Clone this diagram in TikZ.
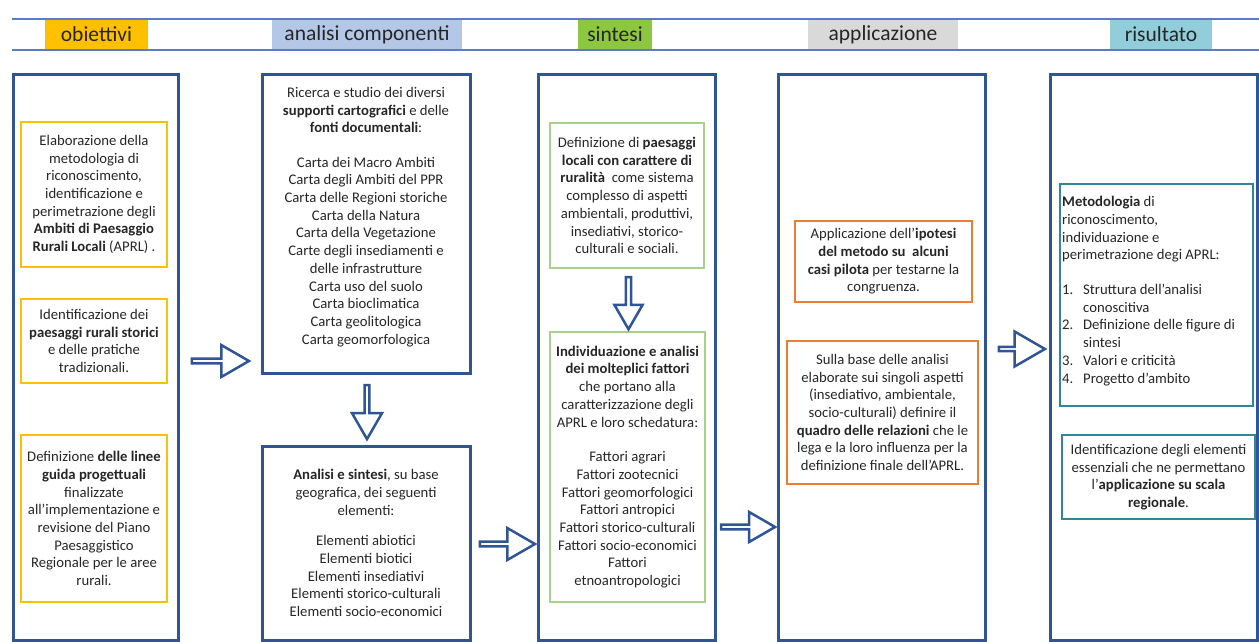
\documentclass[tikz,border=0pt]{standalone}
\usepackage{fontspec}
\setmainfont{Carlito}
\usetikzlibrary{shapes.arrows}
\definecolor{colblue}{HTML}{2F5597}
\definecolor{hdrline}{HTML}{5B7BC4}
\definecolor{gold}{HTML}{FFC000}
\definecolor{hdrblue}{HTML}{B4C7E7}
\definecolor{hdrgreen}{HTML}{8DC63F}
\definecolor{hdrgray}{HTML}{D9D9D9}
\definecolor{hdrcyan}{HTML}{92CDDC}
\definecolor{boxgreen}{HTML}{A9D18E}
\definecolor{boxorange}{HTML}{ED7D31}
\definecolor{boxteal}{HTML}{31859C}
\definecolor{ink}{HTML}{262626}
\begin{document}
\begin{tikzpicture}[x=1pt,y=-1pt,
  colbox/.style={draw=colblue, line width=3pt, inner sep=0pt},
  hdr/.style={font=\fontsize{21.5}{26}\selectfont, inner sep=0pt, minimum height=31pt, text=ink},
  txt/.style={font=\fontsize{14.7}{17.7}\selectfont, align=center, text=ink, inner sep=0pt},
  goldbox/.style={txt, draw=gold, line width=1.8pt},
  greenbox/.style={txt, draw=boxgreen, line width=1.6pt},
  orangebox/.style={txt, draw=boxorange, line width=1.6pt},
  tealbox/.style={txt, draw=boxteal, line width=1.5pt},
  rarrow/.style={single arrow, draw=colblue, fill=white, line width=2.5pt,
    single arrow tip angle=60, single arrow head extend=7.5pt, inner sep=0pt,
    minimum width=32pt},
  darrow/.style={rarrow, shape border rotate=270}
]
\useasboundingbox (0,0) rectangle (1259,642);

% header
\node[hdr, fill=gold, minimum width=103pt] (h1) at (96.5,34.5) {obiettivi};
\node[hdr, fill=hdrblue, minimum width=190pt] (h2) at (367,34.5) {analisi componenti};
\node[hdr, fill=hdrgreen, minimum width=74pt] (h3) at (615,34.5) {sintesi};
\node[hdr, fill=hdrgray, minimum width=150pt] (h4) at (883,34.5) {applicazione};
\node[hdr, fill=hdrcyan, minimum width=102pt] (h5) at (1161,34.5) {risultato};
\draw[hdrline, line width=1.5pt] (12,19) -- (1259,19);
\draw[hdrline, line width=1.5pt] (12,50) -- (1259,50);

% columns
\node[colbox, minimum width=165pt, minimum height=565pt] (c1) at (95.5,357.5) {};
\node[colbox, minimum width=208pt, minimum height=298pt] (c2a) at (366,224) {};
\node[txt] (t2a) at (366,217) {Ricerca e studio dei diversi\\ \textbf{supporti cartografici} e delle\\ \textbf{fonti documentali}:\\[16.5pt]
Carta dei Macro Ambiti\\ Carta degli Ambiti del PPR\\ Carta delle Regioni storiche\\ Carta della Natura\\ Carta della Vegetazione\\ Carte degli insediamenti e\\ delle infrastrutture\\ Carta uso del suolo\\ Carta bioclimatica\\ Carta geolitologica\\ Carta geomorfologica};
\node[colbox, txt, minimum width=208pt, minimum height=194pt] (c2b) at (366,543) {\textbf{Analisi e sintesi}, su base\\ geografica, dei seguenti\\ elementi:\\[13pt]
Elementi abiotici\\ Elementi biotici\\ Elementi insediativi\\ Elementi storico-culturali\\ Elementi socio-economici};
\node[colbox, minimum width=177pt, minimum height=565pt] (c3) at (626.5,357.5) {};
\node[colbox, minimum width=207pt, minimum height=565pt] (c4) at (881.5,357.5) {};
\node[colbox, minimum width=207pt, minimum height=565pt] (c5) at (1153.5,357.5) {};

% column 1
\node[goldbox, minimum width=146pt, minimum height=145pt] (o1) at (94,194.5) {Elaborazione della\\ metodologia di\\ riconoscimento,\\ identificazione e\\ perimetrazione degli\\ \textbf{Ambiti di Paesaggio}\\ \textbf{Rurali Locali} (APRL) .};
\node[goldbox, minimum width=146pt, minimum height=84pt] (o2) at (94,341) {Identificazione dei\\ \textbf{paesaggi rurali storici}\\ e delle pratiche\\ tradizionali.};
\node[goldbox, minimum width=146pt, minimum height=167pt] (o3) at (94,518.5) {Definizione \textbf{delle linee}\\ \textbf{guida progettuali}\\ finalizzate\\ all’implementazione e\\ revisione del Piano\\ Paesaggistico\\ Regionale per le aree\\ rurali.};

% column 3
\node[greenbox, minimum width=154pt, minimum height=145pt] (s1) at (627,195.5) {Definizione di \textbf{paesaggi}\\ \textbf{locali con carattere di}\\ \textbf{ruralità}\ \ come sistema\\ complesso di aspetti\\ ambientali, produttivi,\\ insediativi, storico-\\ culturali e sociali.};
\node[greenbox, minimum width=155pt, minimum height=270pt] (s2) at (627.5,467) {\textbf{Individuazione e analisi}\\ \textbf{dei molteplici fattori}\\ che portano alla\\ caratterizzazione degli\\ APRL e loro schedatura:\\[17pt]
Fattori agrari\\ Fattori zootecnici\\ Fattori geomorfologici\\ Fattori antropici\\ Fattori storico-culturali\\ Fattori socio-economici\\ Fattori\\ etnoantropologici};

% column 4
\node[orangebox, minimum width=177pt, minimum height=81pt] (p1) at (883.5,261.5) {Applicazione dell’\textbf{ipotesi}\\ \textbf{del metodo su\ \ alcuni}\\ \textbf{casi pilota} per testarne la\\ congruenza.};
\node[orangebox, minimum width=191pt, minimum height=143pt] (p2) at (882.5,412.5) {Sulla base delle analisi\\ elaborate sui singoli aspetti\\ (insediativo, ambientale,\\ socio-culturali) definire il\\ \textbf{quadro delle relazioni} che le\\ lega e la loro influenza per la\\ definizione finale dell’APRL.};

% column 5
\node[tealbox, minimum width=193pt, minimum height=222pt] (r1) at (1156.5,295) {};
\node[txt, align=left, anchor=west] (r1t) at (1062,291) {\textbf{Metodologia} di\\ riconoscimento,\\ individuazione e\\ perimetrazione degi APRL:\\[17pt]
\makebox[21pt][l]{1.}Struttura dell’analisi\\ \hspace*{21pt}conoscitiva\\
\makebox[21pt][l]{2.}Definizione delle figure di\\ \hspace*{21pt}sintesi\\
\makebox[21pt][l]{3.}Valori e criticità\\
\makebox[21pt][l]{4.}Progetto d’ambito};
\node[tealbox, minimum width=193pt, minimum height=84pt] (r2) at (1158.5,477) {Identificazione degli elementi\\ essenziali che ne permettano\\ l’\textbf{applicazione su scala}\\ \textbf{regionale}.};

% block arrows
\node[rarrow, minimum height=57pt] (a1) at (218.5,361) {};
\node[rarrow, minimum height=55pt] (a2) at (505.5,544) {};
\node[rarrow, minimum height=54pt, minimum width=30pt, single arrow head extend=6.5pt] (a3) at (746,527) {};
\node[rarrow, minimum height=46pt, minimum width=35pt, single arrow head extend=8.5pt] (a4) at (1020,349) {};
\node[darrow, minimum height=54pt, minimum width=30pt, single arrow head extend=6.5pt] (d1) at (367,410) {};
\node[darrow, minimum height=52pt, minimum width=28pt, single arrow head extend=5.5pt] (d2) at (628.5,301) {};
\end{tikzpicture}
\end{document}
